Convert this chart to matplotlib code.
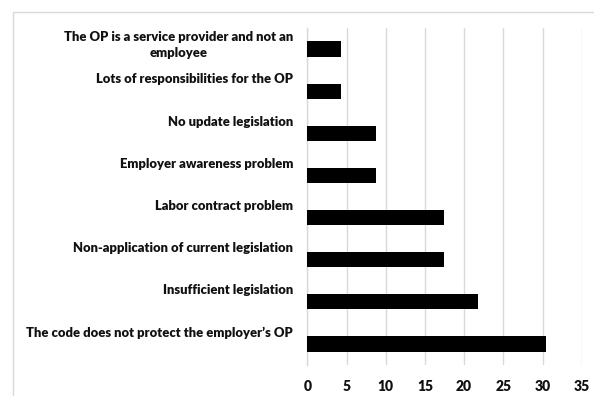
import matplotlib
matplotlib.use("Agg")
import matplotlib.pyplot as plt
from matplotlib.patches import Rectangle
import matplotlib.transforms as mtransforms

categories = [
    "The code does not protect the employer\u2019s OP",
    "Insufficient legislation",
    "Non-application of current legislation",
    "Labor contract problem",
    "Employer awareness problem",
    "No update legislation",
    "Lots of responsibilities for the OP",
    "The OP is a service provider and not an\nemployee",
]
values = [30.43, 21.74, 17.39, 17.39, 8.70, 8.70, 4.35, 4.35]
xticks = [0, 5, 10, 15, 20, 25, 30, 35]

W, H = 594, 396
fig = plt.figure(figsize=(W / 100, H / 100), dpi=100)
fig.patch.set_facecolor("white")

# frame (left and top lines)
fig.add_artist(Rectangle((12.7 / W, -0.1), 1.2, 1.1 - 11.7 / H,
                         transform=fig.transFigure, fill=False,
                         edgecolor="#d9d9d9", linewidth=1.0))

left, right = 307.3, 581.7
top, bottom = 28.0, 365.0
ax = fig.add_axes([left / W, 1 - bottom / H, (right - left) / W, (bottom - top) / H])

pos = list(range(len(categories)))
ax.barh(pos, values, height=0.36, color="black", zorder=3)
ax.set_xlim(0, 35)
ax.set_ylim(-0.5, len(categories) - 0.5)
ax.set_xticks(xticks)
ax.set_xticklabels([str(t) for t in xticks], fontfamily="Lato", fontweight="heavy",
                   fontsize=10, color="#111111")
ax.tick_params(axis="x", length=0, pad=11)
ax.set_yticks([])
ax.grid(axis="x", color="#d9d9d9", linewidth=1.0, zorder=0)
for s in ["top", "right", "bottom"]:
    ax.spines[s].set_visible(False)
ax.spines["left"].set_color("#d9d9d9")
ax.spines["left"].set_linewidth(1.0)

trans = mtransforms.blended_transform_factory(fig.transFigure, ax.transData)
for p, c in zip(pos, categories):
    ax.text(293 / W, p + 0.42, c, transform=trans, ha="right", va="top",
            multialignment="center", fontfamily="Lato", fontweight="heavy",
            fontsize=9.4, color="#111111", linespacing=1.35)

fig.savefig("out.png", dpi=100, facecolor="white")
